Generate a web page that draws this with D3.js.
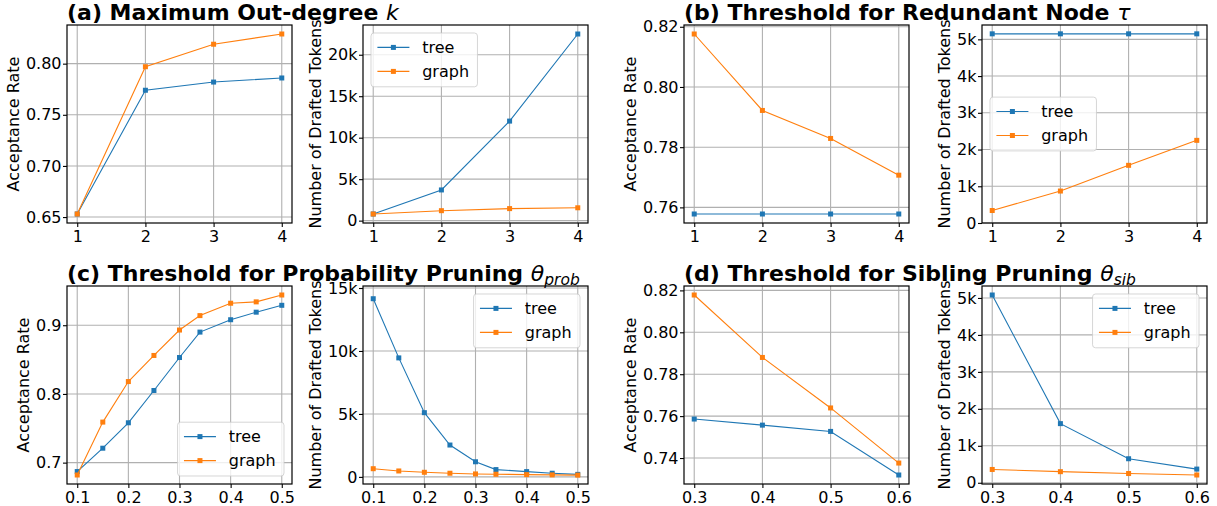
<!DOCTYPE html>
<html>
<head>
<meta charset="utf-8">
<script src="https://cdn.jsdelivr.net/npm/d3@7"></script>
<style>
body { margin: 0; background: #fff; }
text { font-family: "DejaVu Sans", sans-serif; fill: #000; }
</style>
</head>
<body>
<svg id="fig"></svg>
<script>
// (a) maximum out-degree k
var outDegree = [1, 2, 3, 4];
var accTreeK = [0.653, 0.774, 0.782, 0.786];
var accGraphK = [0.653, 0.797, 0.819, 0.829];
var tokTreeK = [800, 3700, 12000, 22500];
var tokGraphK = [800, 1200, 1450, 1550];

// (b) threshold for redundant node tau
var redundantTau = [1, 2, 3, 4];
var accTreeTau = [0.7578, 0.7578, 0.7578, 0.7578];
var accGraphTau = [0.8176, 0.7922, 0.7829, 0.7707];
var tokTreeTau = [5150, 5150, 5150, 5150];
var tokGraphTau = [340, 870, 1570, 2250];

// (c) threshold for probability pruning
var probTheta = [0.1, 0.15, 0.2, 0.25, 0.3, 0.34, 0.4, 0.45, 0.5];
var accTreeProb = [0.687, 0.721, 0.758, 0.805, 0.853, 0.890, 0.908, 0.919, 0.929];
var accGraphProb = [0.682, 0.759, 0.818, 0.856, 0.893, 0.914, 0.932, 0.934, 0.944];
var tokTreeProb = [14150, 9450, 5100, 2530, 1200, 580, 420, 290, 200];
var tokGraphProb = [650, 470, 365, 290, 235, 210, 180, 160, 140];

// (d) threshold for sibling pruning
var sibTheta = [0.3, 0.4, 0.5, 0.6];
var accTreeSib = [0.7586, 0.7557, 0.7527, 0.7319];
var accGraphSib = [0.8178, 0.788, 0.7639, 0.7376];
var tokTreeSib = [5080, 1600, 650, 370];
var tokGraphSib = [360, 300, 250, 210];

// tick values
var intTicks = [1, 2, 3, 4];
var probTicks = [0.1, 0.2, 0.3, 0.4, 0.5];
var sibTicks = [0.3, 0.4, 0.5, 0.6];
var accTicksK = [0.65, 0.70, 0.75, 0.80];
var accTicksTau = [0.76, 0.78, 0.80, 0.82];
var accTicksProb = [0.7, 0.8, 0.9];
var accTicksSib = [0.74, 0.76, 0.78, 0.80, 0.82];
var tokTicksK = [0, 5000, 10000, 15000, 20000];
var tokTicksSmall = [0, 1000, 2000, 3000, 4000, 5000];
var tokTicksProb = [0, 5000, 10000, 15000];

var seriesNames = ["tree", "graph"];
var seriesColors = ["#1f77b4", "#ff7f0e"];

var W = 1217, H = 506;
var colLeft = [67, 363, 684, 982], rowTop = [25, 286];
var pw = 225, ph = 198;

var fmtK = function(v) { return v === 0 ? "0" : (v / 1000) + "k"; };

var panels = [
    {col: 0, row: 0, x: outDegree, ys: [accTreeK, accGraphK], xt: intTicks, xf: d3.format("d"),
     yt: accTicksK, yf: d3.format(".2f"), ylab: "Acceptance Rate"},
    {col: 1, row: 0, x: outDegree, ys: [tokTreeK, tokGraphK], xt: intTicks, xf: d3.format("d"),
     yt: tokTicksK, yf: fmtK, ylab: "Number of Drafted Tokens", legend: "upper left"},
    {col: 2, row: 0, x: redundantTau, ys: [accTreeTau, accGraphTau], xt: intTicks, xf: d3.format("d"),
     yt: accTicksTau, yf: d3.format(".2f"), ylab: "Acceptance Rate"},
    {col: 3, row: 0, x: redundantTau, ys: [tokTreeTau, tokGraphTau], xt: intTicks, xf: d3.format("d"),
     yt: tokTicksSmall, yf: fmtK, ylab: "Number of Drafted Tokens", legend: "center left", ymin: 0},
    {col: 0, row: 1, x: probTheta, ys: [accTreeProb, accGraphProb], xt: probTicks, xf: d3.format(".1f"),
     yt: accTicksProb, yf: d3.format(".1f"), ylab: "Acceptance Rate", legend: "lower right"},
    {col: 1, row: 1, x: probTheta, ys: [tokTreeProb, tokGraphProb], xt: probTicks, xf: d3.format(".1f"),
     yt: tokTicksProb, yf: fmtK, ylab: "Number of Drafted Tokens", legend: "upper right", ymin: -565, ymax: 15160},
    {col: 2, row: 1, x: sibTheta, ys: [accTreeSib, accGraphSib], xt: sibTicks, xf: d3.format(".1f"),
     yt: accTicksSib, yf: d3.format(".2f"), ylab: "Acceptance Rate"},
    {col: 3, row: 1, x: sibTheta, ys: [tokTreeSib, tokGraphSib], xt: sibTicks, xf: d3.format(".1f"),
     yt: tokTicksSmall, yf: fmtK, ylab: "Number of Drafted Tokens", legend: "upper right"}
];

var titles = [
    {col: 0, row: 0, parts: [{t: "(a) Maximum Out-degree "}, {t: "k", it: true}]},
    {col: 2, row: 0, parts: [{t: "(b) Threshold for Redundant Node "}, {t: "\u03c4", it: true}]},
    {col: 0, row: 1, parts: [{t: "(c) Threshold for Probability Pruning "}, {t: "\u03b8", it: true}, {t: "prob", it: true, sub: true}]},
    {col: 2, row: 1, parts: [{t: "(d) Threshold for Sibling Pruning "}, {t: "\u03b8", it: true}, {t: "sib", it: true, sub: true}]}
];

var svg = d3.select("#fig").attr("width", W).attr("height", H);

// matplotlib style 5% margins
function pad(vals) {
    var lo = d3.min(vals), hi = d3.max(vals), m = (hi - lo) * 0.05;
    return [lo - m, hi + m];
}

panels.forEach(drawPanel);

function drawPanel(p) {
    var g = svg.append("g")
        .attr("transform", "translate(" + colLeft[p.col] + "," + rowTop[p.row] + ")");

    var x = d3.scaleLinear().domain(pad(p.x)).range([0, pw]);
    var yd = pad(d3.merge(p.ys));
    if (p.ymin !== undefined) yd[0] = p.ymin;
    if (p.ymax !== undefined) yd[1] = p.ymax;
    var y = d3.scaleLinear().domain(yd).range([ph, 0]);

    // grid
    g.append("g").selectAll("line").data(p.xt).enter().append("line")
        .attr("x1", d => x(d)).attr("x2", d => x(d))
        .attr("y1", 0).attr("y2", ph)
        .attr("stroke", "#b0b0b0").attr("stroke-width", 1.1);
    g.append("g").selectAll("line").data(p.yt).enter().append("line")
        .attr("x1", 0).attr("x2", pw)
        .attr("y1", d => y(d)).attr("y2", d => y(d))
        .attr("stroke", "#b0b0b0").attr("stroke-width", 1.1);

    // axes
    var xa = g.append("g").attr("transform", "translate(0," + ph + ")")
        .call(d3.axisBottom(x).tickValues(p.xt).tickFormat(p.xf).tickSize(4).tickPadding(4));
    var ya = g.append("g")
        .call(d3.axisLeft(y).tickValues(p.yt).tickFormat(p.yf).tickSize(4).tickPadding(1.5));
    [xa, ya].forEach(function(a) {
        a.attr("font-size", 16).attr("font-family", "DejaVu Sans");
        a.select(".domain").remove();
        a.selectAll(".tick line").attr("stroke", "#000").attr("stroke-width", 1.1);
    });

    // lines + markers
    var line = d3.line().x((d, i) => x(p.x[i])).y(d => y(d));
    p.ys.forEach(function(vals, si) {
        g.append("path").datum(vals)
            .attr("d", line)
            .attr("fill", "none")
            .attr("stroke", seriesColors[si])
            .attr("stroke-width", 1.1);
        g.append("g").selectAll("rect").data(vals).enter().append("rect")
            .attr("x", (d, i) => x(p.x[i]) - 2.5)
            .attr("y", d => y(d) - 2.5)
            .attr("width", 5).attr("height", 5)
            .attr("fill", seriesColors[si]);
    });

    // spines
    g.append("rect")
        .attr("width", pw).attr("height", ph)
        .attr("fill", "none").attr("stroke", "#000").attr("stroke-width", 1.2);

    // y label
    var bb = ya.node().getBBox();
    g.append("text")
        .attr("transform", "translate(" + (bb.x - 7) + "," + (ph / 2) + ") rotate(-90)")
        .attr("text-anchor", "middle")
        .attr("font-size", 16)
        .text(p.ylab);

    if (p.legend) drawLegend(g, p.legend);
}

function drawLegend(g, loc) {
    var fs = 16, bp = 6.4, hl = 32, tp = 12.8, rowH = 24, off = 8;
    var lg = g.append("g");
    var box = lg.append("rect");
    var items = lg.selectAll("g.item").data(seriesNames).enter().append("g").attr("class", "item");
    items.append("text")
        .attr("x", bp + hl + tp)
        .attr("y", (d, i) => bp + 8 + i * rowH)
        .attr("dy", "0.36em")
        .attr("font-size", fs)
        .text(d => d);
    var tw = d3.max(items.selectAll("text").nodes(), n => n.getComputedTextLength());
    var bw = bp + hl + tp + tw + bp + 2, bh = bp * 2 + fs * 2 + 8 + 1;
    items.append("line")
        .attr("x1", bp).attr("x2", bp + hl)
        .attr("y1", (d, i) => bp + 8 + i * rowH).attr("y2", (d, i) => bp + 8 + i * rowH)
        .attr("stroke", (d, i) => seriesColors[i]).attr("stroke-width", 1.1);
    items.append("rect")
        .attr("x", bp + hl / 2 - 2.5)
        .attr("y", (d, i) => bp + 8 + i * rowH - 2.5)
        .attr("width", 5).attr("height", 5)
        .attr("fill", (d, i) => seriesColors[i]);
    box.attr("width", bw).attr("height", bh).attr("rx", 3)
        .attr("fill", "#fff").attr("fill-opacity", 0.8)
        .attr("stroke", "#ccc").attr("stroke-opacity", 0.8);

    var lx = loc.indexOf("right") >= 0 ? pw - off - bw : off;
    var ly = loc.indexOf("upper") >= 0 ? off : (loc.indexOf("lower") >= 0 ? ph - off - bh : (ph - bh) / 2);
    lg.attr("transform", "translate(" + lx + "," + ly + ")");
}

// titles
titles.forEach(function(t) {
    var txt = svg.append("text")
        .attr("x", colLeft[t.col])
        .attr("y", rowTop[t.row] - 5)
        .attr("font-size", 22)
        .attr("font-weight", "bold");
    t.parts.forEach(function(part) {
        var s = txt.append("tspan").text(part.t);
        if (part.it) s.attr("font-style", "italic").attr("font-weight", "normal");
        if (part.sub) s.attr("font-size", 15.5).attr("dy", 4);
    });
});
</script>
</body>
</html>
